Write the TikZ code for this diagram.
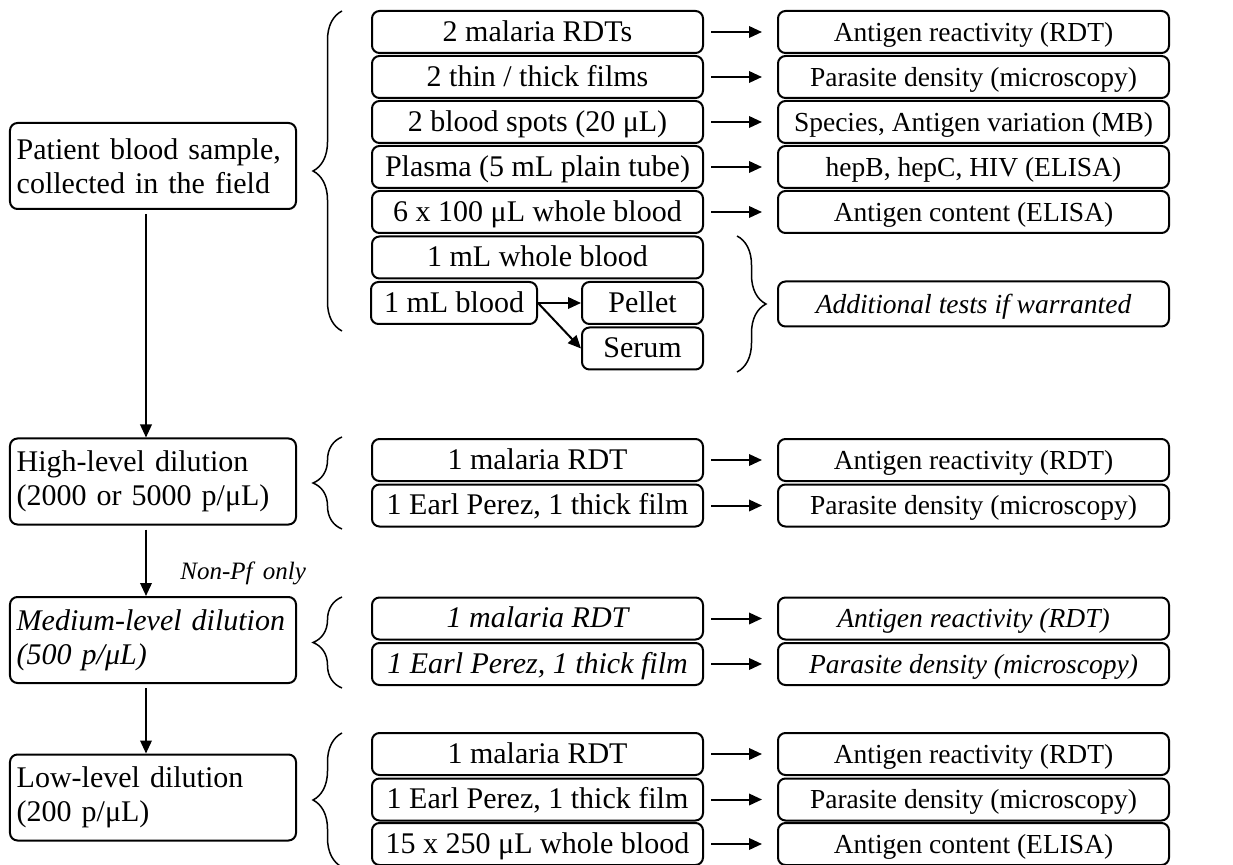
\documentclass[tikz,border=0pt]{standalone}
\usepackage{fontspec}
\setmainfont{Liberation Serif}
\usetikzlibrary{arrows.meta,decorations.pathreplacing}

\begin{document}
\begin{tikzpicture}[x=0.4pt,y=-0.4pt,>={Triangle[length=5.2pt,width=4.6pt]},
  box/.style={draw,line width=0.8pt,rounded corners=3pt,inner sep=0pt,minimum height=16.8pt,text height=8pt,text depth=0.6pt,font=\fontsize{12}{13.6}\selectfont},
  mbox/.style={box,minimum width=132.4pt},
  rbox/.style={box,minimum width=156.4pt,font=\fontsize{11}{13}\selectfont},
  sbox/.style={box,text height=,text depth=,minimum height=34.4pt,text width=109pt,align=left,inner xsep=2.7pt},
  hook/.style={decorate,decoration={brace,amplitude=11.6pt},line width=0.6pt},
  link/.style={->,line width=0.8pt,shorten <=2.8pt,shorten >=6pt},
  down/.style={->,line width=0.8pt,shorten <=1.6pt}]
\useasboundingbox (0,0) rectangle (1233,865);

\node[sbox] (pat) at (153,166) {Patient blood sample,\\collected in the field};
\node[sbox] (high) at (153,481.5) {High-level dilution\\(2000 or 5000 p/μL)};
\node[sbox,font=\fontsize{12}{13.6}\selectfont\itshape] (med) at (153,640) {Medium-level dilution\\(500 p/μL)};
\node[sbox] (low) at (153,797.5) {Low-level dilution\\(200 p/μL)};

\node[mbox] (a1) at (537.5,32) {2 malaria RDTs};
\node[mbox] (a2) at (537.5,77) {2 thin / thick films};
\node[mbox] (a3) at (537.5,122) {2 blood spots (20 μL)};
\node[mbox] (a4) at (537.5,167) {Plasma (5 mL plain tube)};
\node[mbox] (a5) at (537.5,212) {6 x 100 μL whole blood};
\node[mbox] (a6) at (537.5,257.5) {1 mL whole blood};
\node[box,minimum width=66.4pt] (bl) at (454,303) {1 mL blood};
\node[box,minimum width=48.4pt] (pel) at (642.5,303) {Pellet};
\node[box,minimum width=48.4pt] (ser) at (642.5,348.5) {Serum};

\node[rbox] (ra1) at (973.5,32) {Antigen reactivity (RDT)};
\node[rbox] (ra2) at (973.5,77) {Parasite density (microscopy)};
\node[rbox] (ra3) at (973.5,122) {Species, Antigen variation (MB)};
\node[rbox] (ra4) at (973.5,167) {hepB, hepC, HIV (ELISA)};
\node[rbox] (ra5) at (973.5,212) {Antigen content (ELISA)};
\node[rbox,minimum height=18pt,font=\fontsize{11}{13}\selectfont\itshape] (add) at (973.5,304) {Additional tests if warranted};

\node[mbox] (b1) at (537.5,460) {1 malaria RDT};
\node[mbox] (b2) at (537.5,505.5) {1 Earl Perez, 1 thick film};
\node[rbox] (rb1) at (973.5,460) {Antigen reactivity (RDT)};
\node[rbox] (rb2) at (973.5,505.5) {Parasite density (microscopy)};

\node[mbox,font=\fontsize{12}{13.6}\selectfont\itshape] (c1) at (537.5,618.5) {1 malaria RDT};
\node[mbox,font=\fontsize{12}{13.6}\selectfont\itshape] (c2) at (537.5,664) {1 Earl Perez, 1 thick film};
\node[rbox,font=\fontsize{11}{13}\selectfont\itshape] (rc1) at (973.5,618.5) {Antigen reactivity (RDT)};
\node[rbox,font=\fontsize{11}{13}\selectfont\itshape] (rc2) at (973.5,664) {Parasite density (microscopy)};

\node[mbox] (d1) at (537.5,754) {1 malaria RDT};
\node[mbox] (d2) at (537.5,799.5) {1 Earl Perez, 1 thick film};
\node[mbox] (d3) at (537.5,844) {15 x 250 μL whole blood};
\node[rbox] (rd1) at (973.5,754) {Antigen reactivity (RDT)};
\node[rbox] (rd2) at (973.5,799.5) {Parasite density (microscopy)};
\node[rbox] (rd3) at (973.5,844) {Antigen content (ELISA)};

\foreach \i in {1,...,5} \draw[link] (a\i) -- (ra\i);
\foreach \i in {1,2} {
  \draw[link] (b\i) -- (rb\i);
  \draw[link] (c\i) -- (rc\i);
}
\foreach \i in {1,2,3} \draw[link] (d\i) -- (rd\i);

\draw[->,line width=0.8pt] (bl) -- (pel);
\draw[->,line width=0.8pt] (bl.east) -- (ser.west);

\draw[down] ([xshift=-2.8pt]pat.south) -- ([xshift=-2.8pt]high.north);
\draw[down] ([xshift=-2.8pt]high.south) -- node[pos=0.68,right=10pt,font=\fontsize{10}{12}\selectfont\itshape] (npf) {Non-Pf\, only} ([xshift=-2.8pt]med.north);
\draw[down] ([xshift=-2.8pt]med.south) -- ([xshift=-2.8pt]low.north);

\draw[hook] (342,331) -- (342,11);
\draw[hook] (342,529) -- (342,437);
\draw[hook] (342,688) -- (342,597);
\draw[hook] (342,867) -- (342,733);
\draw[hook] (737,236) -- (737,372);
\end{tikzpicture}
\end{document}
